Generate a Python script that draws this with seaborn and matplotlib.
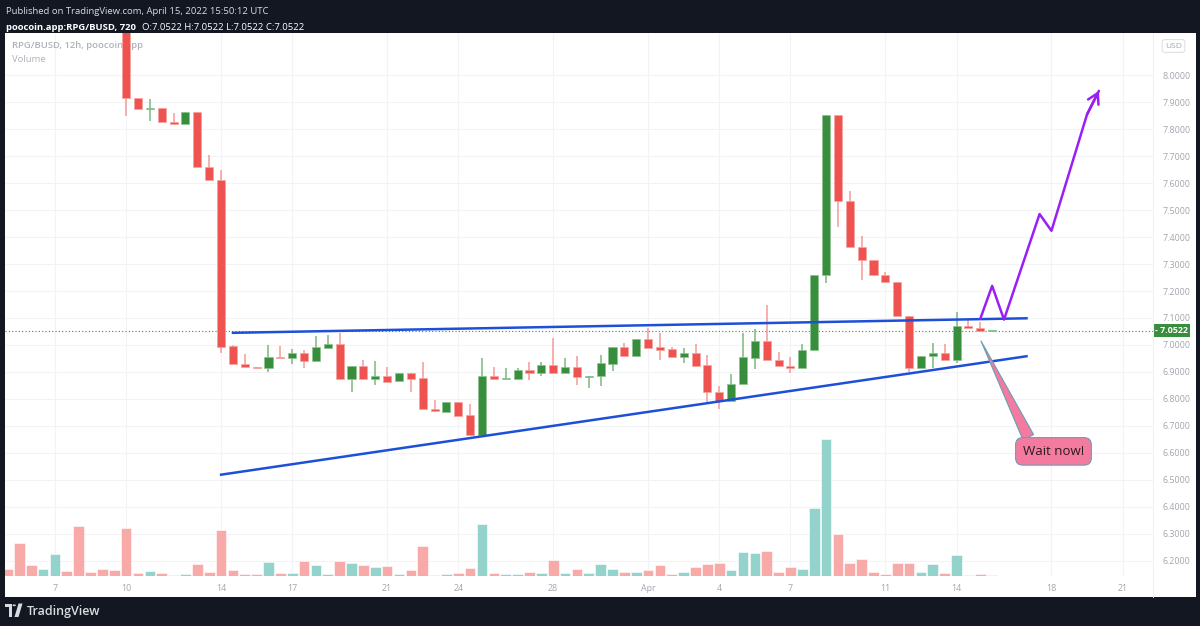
import numpy as np
import pandas as pd
import matplotlib
matplotlib.use("Agg")
import matplotlib.pyplot as plt
import seaborn as sns
from matplotlib.patches import Rectangle, Circle, Polygon
from matplotlib.lines import Line2D
from matplotlib.transforms import blended_transform_factory

# 12h candles RPG/BUSD, 2022-03-05 00:00 .. 2022-04-15 12:00 (index 0..83)
opens = [8.95, 8.85, 8.60, 8.55, 8.62, 8.75, 8.70, 8.40, 8.36, 8.32,
         8.30, 7.914, 7.874, 7.877, 7.827, 7.817, 7.862, 7.660, 7.610, 6.996,
         6.931, 6.920, 6.916, 6.955, 6.953, 6.972, 6.941, 6.990, 7.004, 6.874,
         6.922, 6.873, 6.885, 6.867, 6.897, 6.877, 6.764, 6.753, 6.788, 6.741,
         6.667, 6.884, 6.875, 6.875, 6.907, 6.897, 6.926, 6.895, 6.920, 6.883,
         6.885, 6.930, 6.991, 6.960, 7.021, 6.991, 6.984, 6.957, 6.969, 6.926,
         6.827, 6.794, 6.856, 6.953, 7.015, 6.944, 6.922, 6.915, 6.981, 7.259,
         7.852, 7.533, 7.363, 7.314, 7.259, 7.232, 7.109, 6.913, 6.959, 6.970,
         6.943, 7.069, 7.064, 7.0522]
highs = [9.00, 8.88, 8.64, 8.65, 8.78, 8.77, 8.72, 8.43, 8.39, 8.35,
         8.32, 7.914, 7.911, 7.877, 7.860, 7.862, 7.862, 7.704, 7.648, 6.999,
         6.967, 6.920, 7.000, 6.996, 6.984, 6.981, 7.033, 7.038, 7.043, 6.922,
         6.944, 6.940, 6.919, 6.897, 6.897, 6.937, 6.796, 6.788, 6.788, 6.780,
         6.951, 6.920, 6.914, 6.915, 6.936, 6.936, 7.027, 6.951, 6.959, 6.886,
         6.963, 6.991, 7.008, 7.021, 7.064, 7.043, 6.994, 6.990, 7.004, 6.963,
         6.848, 6.891, 7.043, 7.061, 7.148, 6.974, 6.954, 7.003, 7.259, 7.852,
         7.852, 7.572, 7.404, 7.314, 7.272, 7.232, 7.109, 6.959, 7.008, 7.003,
         7.122, 7.096, 7.084, 7.0522]
lows = [8.82, 8.58, 8.52, 8.53, 8.60, 8.68, 8.38, 8.34, 8.30, 8.28,
        7.849, 7.873, 7.830, 7.827, 7.817, 7.817, 7.659, 7.610, 6.972, 6.930,
        6.919, 6.915, 6.900, 6.952, 6.928, 6.915, 6.941, 6.990, 6.874, 6.825,
        6.874, 6.852, 6.864, 6.867, 6.825, 6.763, 6.754, 6.753, 6.738, 6.667,
        6.667, 6.874, 6.875, 6.875, 6.870, 6.886, 6.895, 6.895, 6.852, 6.840,
        6.848, 6.905, 6.960, 6.960, 6.988, 6.944, 6.957, 6.932, 6.923, 6.790,
        6.762, 6.794, 6.856, 6.910, 6.944, 6.921, 6.895, 6.915, 6.981, 7.228,
        7.437, 7.363, 7.241, 7.259, 7.232, 7.109, 6.901, 6.913, 6.916, 6.943,
        6.932, 7.063, 7.0522, 7.0522]
closes = [8.85, 8.60, 8.55, 8.62, 8.75, 8.70, 8.40, 8.36, 8.32, 8.30,
          7.914, 7.873, 7.879, 7.827, 7.817, 7.862, 7.659, 7.610, 6.994, 6.930,
          6.919, 6.915, 6.954, 6.952, 6.972, 6.941, 6.991, 7.004, 6.874, 6.922,
          6.874, 6.885, 6.864, 6.897, 6.874, 6.763, 6.754, 6.788, 6.738, 6.667,
          6.884, 6.874, 6.879, 6.909, 6.897, 6.926, 6.895, 6.920, 6.883, 6.886,
          6.933, 6.991, 6.960, 7.021, 6.988, 6.981, 6.957, 6.969, 6.923, 6.826,
          6.794, 6.856, 6.954, 7.015, 6.944, 6.921, 6.915, 6.981, 7.259, 7.852,
          7.533, 7.363, 7.314, 7.259, 7.232, 7.109, 6.913, 6.959, 6.970, 6.943,
          7.069, 7.063, 7.0522, 7.0522]
volumes = [7, 32.7, 10.3, 7, 22, 4.7, 48.7, 3.7, 7, 5.7,
           47, 3.3, 4.7, 2.7, 1, 1.7, 11.7, 3.7, 44.7, 6.3,
           1.7, 1.7, 13.3, 2.7, 3.3, 15, 10.3, 1.7, 15, 12.7,
           11, 8.7, 9.7, 1.7, 6.3, 29.7, 1, 1.7, 2.7, 7.7,
           50.7, 2.7, 1.7, 1.7, 4, 2.7, 15.7, 3.3, 7, 2.7,
           12, 7.3, 3.7, 3.7, 6.3, 10.7, 2, 4.3, 8.7, 11.3,
           12.3, 6.3, 23.3, 22.3, 24.7, 4.3, 9.3, 7, 66.7, 134.3,
           41, 13, 16.3, 4.3, 2, 12.3, 13, 4.3, 11.3, 3,
           21, 0.7, 2.3, 0.7]

tick_idx = [4, 10, 18, 24, 32, 38, 46, 54, 60, 66, 74, 80, 88, 94]
tick_labels = ["7", "10", "14", "17", "21", "24", "28", "Apr", "4", "7", "11", "14", "18", "21"]
price_ticks = [round(6.2 + 0.1 * k, 1) for k in range(19)]
last_price = 7.0522

# hand-drawn lines on the chart (candle index, price)
upper_x = [18.9, 86.0]
upper_y = [7.045, 7.099]
lower_x = [17.9, 86.0]
lower_y = [6.519, 6.959]
path_x = [82.0, 83.0, 84.0, 87.0, 88.0, 91.0, 92.0]
path_y = [7.097, 7.219, 7.094, 7.485, 7.423, 7.854, 7.941]

W, H = 1200, 626
BG = "#131722"
GREEN = "#388e3c"
RED = "#ef5350"
TXT = "#a3a6af"
GRID = "#f2f3f6"


def fx(x):
    return x / W


def fy(y):
    return 1 - y / H


def draw_candles(ax, df):
    up = df["close"] >= df["open"]
    lo = np.minimum(df["open"], df["close"])
    hgt = np.maximum((df["close"] - df["open"]).abs(), 0.004)
    body = np.where(up, GREEN, RED)
    wick = np.where(up, "#7cb87f", "#f59a98")
    ax.vlines(df["idx"], df["low"], df["high"], colors=wick, lw=1.1, zorder=3)
    ax.bar(df["idx"], hgt, bottom=lo, width=0.68, color=body,
           edgecolor=np.where(up, "#8cc490", "#f7a3a1"), linewidth=0.5, zorder=4)


def main():
    sns.set_theme(style="white")
    plt.rcParams["font.family"] = ["Open Sans", "DejaVu Sans"]

    df = pd.DataFrame({"idx": np.arange(len(opens)), "open": opens, "high": highs,
                       "low": lows, "close": closes, "volume": volumes})
    df["dir"] = np.where(df["close"] >= df["open"], "up", "down")

    fig = plt.figure(figsize=(W / 100, H / 100), dpi=100, facecolor=BG)
    # white chart panel, kept behind every axes
    fig.patches.append(Rectangle((fx(5), fy(597)), fx(1196) - fx(5), fy(33) - fy(597),
                                 transform=fig.transFigure, fc="white", ec="none", zorder=-5))

    ax = fig.add_axes([fx(5), fy(576), fx(1153) - fx(5), fy(33) - fy(576)])
    vax = ax.twinx()
    ax.set_zorder(vax.get_zorder() + 1)
    ax.patch.set_visible(False)
    vax.patch.set_visible(False)

    # grid sits in the lower (volume) axes so the bars cover it
    for t in tick_idx:
        vax.axvline(t, color=GRID, lw=0.8, zorder=0)
    gtr = blended_transform_factory(vax.transAxes, ax.transData)
    for p in price_ticks:
        vax.plot([0, 1], [p, p], transform=gtr, color=GRID, lw=0.8, zorder=0)

    # volume
    sns.barplot(data=df, x="idx", y="volume", hue="dir", ax=vax, native_scale=True,
                palette={"up": "#93d3cc", "down": "#f8aaa8"}, dodge=False, width=0.9,
                saturation=1, errorbar=None, legend=False, edgecolor="white", linewidth=0.4)
    vax.set_ylim(0, 532)
    vax.set_yticks([])
    vax.set_xlabel("")
    vax.set_ylabel("")

    draw_candles(ax, df)

    ax.axhline(last_price, color=GREEN, ls=(0, (1, 2)), lw=0.8, zorder=2)

    ax.plot(upper_x, upper_y, color="#1d4fd8", lw=1.8, zorder=5, solid_capstyle="butt")
    ax.plot(lower_x, lower_y, color="#1d4fd8", lw=1.8, zorder=5, solid_capstyle="butt")
    ax.plot(path_x, path_y, color="#9b1ff5", lw=1.8, zorder=6)
    ax.annotate("", xy=(path_x[-1], path_y[-1]), xytext=(path_x[-2], path_y[-2]),
                arrowprops=dict(arrowstyle="->,head_length=0.6,head_width=0.35",
                                color="#9b1ff5", lw=1.8, shrinkA=0, shrinkB=0), zorder=6)

    ax.annotate("Wait now!", xy=(82.06, 7.015), xytext=(88.17, 6.606),
                ha="center", va="center", fontsize=9.5, color="#2b1b22", zorder=7,
                bbox=dict(boxstyle="round,pad=0.55", fc="#f47aa0", ec="#6a9fb5", lw=0.8),
                arrowprops=dict(arrowstyle="wedge,tail_width=0.9", fc="#f47aa0", ec="#6a9fb5",
                                lw=0.8, relpos=(0.15, 1.0), shrinkA=0, shrinkB=0))

    ax.set_xlim(-0.21, 96.56)
    ax.set_ylim(6.1444, 8.1556)
    ax.set_xticks(tick_idx, tick_labels)
    ax.set_yticks(price_ticks, [f"{p:.4f}" for p in price_ticks])
    ax.yaxis.tick_right()
    ax.tick_params(axis="y", length=0, pad=7, labelsize=6.4, labelcolor=TXT)
    ax.tick_params(axis="x", length=0, pad=6, labelsize=6.4, labelcolor=TXT)
    for a in (ax, vax):
        for s in a.spines.values():
            s.set_visible(False)

    # last price tag on the price scale
    tr = blended_transform_factory(fig.transFigure, ax.transData)
    ax.text(fx(1155), last_price, "- 7.0522", transform=tr, ha="left", va="center",
            fontsize=6.4, fontweight="bold", color="white", clip_on=False, zorder=8,
            bbox=dict(boxstyle="square,pad=0.22", fc=GREEN, ec="none"))

    # legend
    ax.text(fx(12), fy(46), "RPG/BUSD, 12h, poocoin.app", transform=fig.transFigure,
            fontsize=6.8, fontweight="semibold", color="#aeb1b9", va="center", zorder=1)
    ax.text(fx(12), fy(60), "Volume", transform=fig.transFigure,
            fontsize=6.8, color="#aeb1b9", va="center", zorder=1)

    fig.add_artist(Line2D([fx(1153), fx(1153)], [fy(33), fy(597)], color="#eef0f4", lw=0.8))
    fig.text(fx(1173.5), fy(46), "USD", ha="center", va="center", fontsize=6, color=TXT,
             bbox=dict(boxstyle="round,pad=0.35", fc="white", ec="#dfe1e6", lw=0.8))

    # header
    fig.text(fx(6), fy(12), "Published on TradingView.com, April 15, 2022 15:50:12 UTC",
             fontsize=6.8, color="#d9dbe0", va="center")
    fig.text(fx(6), fy(28), "poocoin.app:RPG/BUSD, 720", fontsize=6.8, fontweight="bold",
             color="white", va="center")
    fig.text(fx(142), fy(28), "O:7.0522 H:7.0522 L:7.0522 C:7.0522", fontsize=6.8,
             color="white", va="center")

    # footer logo
    logo = "#d9dbe0"
    fig.patches.append(Polygon([(fx(5), fy(603.5)), (fx(12), fy(603.5)), (fx(12), fy(617)),
                                (fx(9), fy(617)), (fx(9), fy(607)), (fx(5), fy(607))],
                               closed=True, transform=fig.transFigure, fc=logo, ec="none"))
    fig.patches.append(Circle((fx(14.2), fy(605.3)), 1.7 / W, transform=fig.transFigure,
                              fc=logo, ec="none"))
    fig.patches.append(Polygon([(fx(18.5), fy(603.5)), (fx(22.5), fy(603.5)), (fx(18.5), fy(617)),
                                (fx(14.5), fy(617))],
                               closed=True, transform=fig.transFigure, fc=logo, ec="none"))
    fig.text(fx(27), fy(611), "TradingView", fontsize=9, fontweight="semibold",
             color=logo, va="center")

    fig.savefig("out.png", dpi=100, facecolor=BG)
    plt.close(fig)


if __name__ == "__main__":
    main()
